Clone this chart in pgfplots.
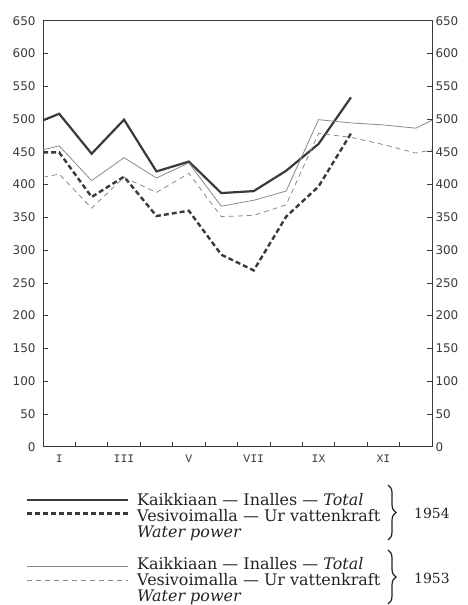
\documentclass[border=0pt]{standalone}
\usepackage{fontspec}
\usepackage{pgfplots}
\pgfplotsset{compat=1.18}
\usetikzlibrary{decorations.pathreplacing}
\newfontfamily\ticksf{DejaVu Sans}
\newfontfamily\tickmono{Liberation Mono}
\newfontfamily\legfont[Ligatures=TeX]{DejaVu Serif}
\definecolor{ink}{HTML}{3A3A3A}
\definecolor{thinc}{HTML}{8A8A8A}
\definecolor{txt}{HTML}{222222}
\begin{document}
\begin{tikzpicture}
\path[use as bounding box] (-43bp,-158.3bp) rectangle (425bp,446.7bp);
\begin{axis}[
  scale only axis, width=389bp, height=426bp,
  xmin=0.5, xmax=12.5, ymin=0, ymax=650,
  ytick={0,50,...,650}, ytick pos=both,
  xtick={1,3,5,7,9,11}, xticklabels={I,III,V,VII,IX,XI},
  minor xtick={1.5,2.5,...,11.5}, xtick pos=bottom,
  major x tick style={draw=none},
  tick align=inside, major tick length=5bp, minor tick length=5bp,
  tick style={ink, line width=0.7bp},
  axis line style={ink, line width=0.9bp},
  /pgf/number format/assume math mode=true,
  yticklabel style={font=\ticksf\fontsize{12}{13}\selectfont, text=ink, xshift=-4bp},
  xticklabel style={font=\tickmono\fontsize{11.5}{12}\selectfont, text=ink, yshift=-5bp},
]
\addplot[ink, line width=2.2bp] coordinates {
 (0.5,498) (1,508) (2,447) (3,499) (4,420) (5,435) (6,387) (7,390) (8,421) (9,462) (10,533)};
\addplot[ink, line width=2.4bp, dash pattern=on 5bp off 3bp] coordinates {
 (0.5,449) (1,449) (2,381) (3,412) (4,352) (5,360) (6,293) (7,269) (8,351) (9,397) (10,478)};
\addplot[thinc, line width=0.8bp] coordinates {
 (0.5,453) (1,459) (2,406) (3,441) (4,410) (5,433) (6,367) (7,376) (8,390) (9,499) (10,494) (11,491) (12,486) (12.5,498)};
\addplot[thinc, line width=0.8bp, dash pattern=on 5bp off 4bp] coordinates {
 (0.5,411) (1,416) (2,364) (3,411) (4,388) (5,417) (6,351) (7,353) (8,369) (9,478) (10,472) (11,461) (12,448) (12.5,453)};
\node[anchor=base west, font=\tickmono\fontsize{13}{14}\selectfont, text=ink, inner sep=0pt] at (rel axis cs:0,1) [yshift=4.5bp] {milj.kWh};
\node[anchor=base east, font=\tickmono\fontsize{13}{14}\selectfont, text=ink, inner sep=0pt] at (rel axis cs:1,1) [yshift=4.5bp, xshift=-4bp] {mill.kWh};
\end{axis}
\begin{axis}[
  scale only axis, width=389bp, height=426bp,
  xmin=0.5, xmax=12.5, ymin=0, ymax=650,
  hide x axis, axis y line*=right,
  ytick={0,50,...,650}, yticklabel pos=right,
  ytick style={draw=none}, y axis line style={draw=none},
  /pgf/number format/assume math mode=true,
  yticklabel style={font=\ticksf\fontsize{12}{13}\selectfont, text=ink},
]
\end{axis}
% legend
\draw[ink, line width=2.2bp] (-16bp,-53.3bp) -- (85bp,-53.3bp);
\draw[ink, line width=2.4bp, dash pattern=on 5bp off 3bp] (-16bp,-66.8bp) -- (85bp,-66.8bp);
\draw[thinc, line width=0.8bp] (-16bp,-119.3bp) -- (85bp,-119.3bp);
\draw[thinc, line width=0.8bp, dash pattern=on 5bp off 4bp] (-16bp,-133.3bp) -- (85bp,-133.3bp);
\begin{scope}[every node/.style={anchor=base west, inner sep=0pt, text=txt, font=\legfont\fontsize{16}{14.3}\selectfont}]
\node at (94bp,-58.3bp) {\begin{tabular}[t]{@{}l@{}}Kaikkiaan — Inalles — \textit{Total}\\ Vesivoimalla — Ur vattenkraft\\ \textit{Water power}\end{tabular}};
\node at (94bp,-122.6bp) {\begin{tabular}[t]{@{}l@{}}Kaikkiaan — Inalles — \textit{Total}\\ Vesivoimalla — Ur vattenkraft\\ \textit{Water power}\end{tabular}};
\end{scope}
\begin{scope}[every node/.style={anchor=base west, inner sep=0pt, text=txt, font=\legfont\fontsize{14}{14}\selectfont}]
\node at (371bp,-71.3bp) {1954};
\node at (371bp,-136.3bp) {1953};
\end{scope}
\draw[txt, line width=1.2bp, decorate, decoration={brace, amplitude=8bp}] (345bp,-38.3bp) -- (345bp,-93.3bp);
\draw[txt, line width=1.2bp, decorate, decoration={brace, amplitude=8bp}] (345bp,-103.3bp) -- (345bp,-157.3bp);
\end{tikzpicture}
\end{document}
